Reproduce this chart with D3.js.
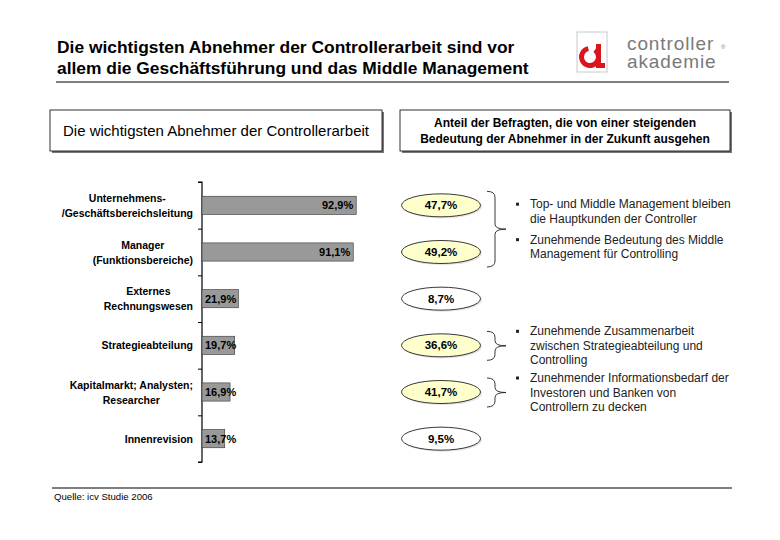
<!DOCTYPE html>
<html>
<head>
<meta charset="utf-8">
<script src="https://cdn.jsdelivr.net/npm/d3@7"></script>
<style>
  body { margin: 0; background: #fff; }
  svg { font-family: "Liberation Sans", Arial, sans-serif; }
</style>
</head>
<body>
<svg id="svg" width="780" height="540"></svg>
<script>
var titleLines = ["Die wichtigsten Abnehmer der Controllerarbeit sind vor",
                  "allem die Geschäftsführung und das Middle Management"];
var leftHeader = "Die wichtigsten Abnehmer der Controllerarbeit";
var rightHeader = ["Anteil der Befragten, die von einer steigenden",
                   "Bedeutung der Abnehmer in der Zukunft ausgehen"];
var logoLines = ["controller", "akademie"];
var categories = [["Unternehmens-", "/Geschäftsbereichsleitung"],
                  ["Manager", "(Funktionsbereiche)"],
                  ["Externes", "Rechnungswesen"],
                  ["Strategieabteilung"],
                  ["Kapitalmarkt; Analysten;", "Researcher"],
                  ["Innenrevision"]];
var current = [92.9, 91.1, 21.9, 19.7, 16.9, 13.7];
var future = [47.7, 49.2, 8.7, 36.6, 41.7, 9.5];
var highlighted = [true, true, false, true, true, false];
// brace groups: first and last row index, and the notes next to it
var braces = [[0, 1], [3, 3], [4, 4]];
var notes = [
  [["Top- und Middle Management bleiben", "die Hauptkunden der Controller"],
   ["Zunehmende Bedeutung des Middle", "Management für Controlling"]],
  [["Zunehmende Zusammenarbeit", "zwischen Strategieabteilung und", "Controlling"]],
  [["Zunehmender Informationsbedarf der", "Investoren und Banken von", "Controllern zu decken"]]
];
var source = "Quelle: icv Studie 2006";

var fmt = function(v) { return v.toFixed(1).replace(".", ",") + "%"; };

var svg = d3.select("#svg");

// title
svg.append("g").selectAll("text").data(titleLines).enter().append("text")
  .attr("x", 57).attr("y", function(d, i) { return 53 + i * 21; })
  .attr("font-size", 17.4).attr("font-weight", "bold").attr("fill", "#000")
  .text(function(d) { return d; });
svg.append("line").attr("x1", 56).attr("x2", 729).attr("y1", 82).attr("y2", 82)
  .attr("stroke", "#000").attr("stroke-width", 1.2);

// logo
var logo = svg.append("g");
logo.append("rect").attr("x", 577).attr("y", 32).attr("width", 30).attr("height", 40)
  .attr("fill", "#fff").attr("stroke", "#c8c8c8");
logo.append("path").attr("d", d3.arc()({innerRadius: 6, outerRadius: 11, startAngle: 0.6, endAngle: 2 * Math.PI - 0.2}))
  .attr("transform", "translate(590,57)").attr("fill", "#d7161e");
logo.append("path").attr("d", "M596,44 L601,44 L601,63 L605,63 L605,68 L596,68 Z").attr("fill", "#d7161e");
logo.append("text").attr("x", 627).attr("y", 50).attr("font-size", 19).attr("fill", "#7a7a7a")
  .attr("letter-spacing", 0.9)
  .selectAll("tspan").data(logoLines).enter().append("tspan")
  .attr("x", 627).attr("dy", function(d, i) { return i ? 18 : 0; })
  .text(function(d) { return d; });
logo.append("text").attr("x", 721).attr("y", 49).attr("font-size", 6).attr("fill", "#7a7a7a").text("®");

// header boxes
function box(x, y, w, h) {
  svg.append("rect").attr("x", x + 2).attr("y", y + 2).attr("width", w).attr("height", h).attr("fill", "#777");
  svg.append("rect").attr("x", x).attr("y", y).attr("width", w).attr("height", h)
    .attr("fill", "#fff").attr("stroke", "#000").attr("stroke-width", 0.8);
}
box(50, 110, 332, 41);
box(400, 110, 330, 41);
svg.append("text").attr("x", 216).attr("y", 136).attr("text-anchor", "middle")
  .attr("font-size", 15).text(leftHeader);
svg.append("g").selectAll("text").data(rightHeader).enter().append("text")
  .attr("x", 565).attr("y", function(d, i) { return 127 + i * 16; }).attr("text-anchor", "middle")
  .attr("font-size", 12).attr("font-weight", "bold").text(function(d) { return d; });

// scales
var idx = d3.range(categories.length);
var y = d3.scaleBand().domain(idx).range([182, 462]).paddingInner(0.61).paddingOuter(0.305);
var yEdge = d3.scaleLinear().domain([0, categories.length]).range([182, 462]);
var x = d3.scaleLinear().domain([0, 100]).range([202, 368]);
var yc = function(i) { return y(i) + y.bandwidth() / 2; };

// axis with ticks at band edges
svg.append("g").attr("transform", "translate(202,0)")
  .call(d3.axisLeft(yEdge).ticks(categories.length).tickSize(4).tickFormat(""))
  .call(function(g) {
    g.select(".domain").attr("stroke", "#000").attr("stroke-width", 1.2).attr("d", "M-4,182H0V462H-4");
    g.selectAll(".tick line").attr("stroke", "#000");
  });

// bars
svg.append("g").selectAll("rect").data(current).enter().append("rect")
  .attr("x", x(0)).attr("y", function(d, i) { return y(i); })
  .attr("width", function(d) { return x(d) - x(0); }).attr("height", y.bandwidth())
  .attr("fill", "#999").attr("stroke", "#333").attr("stroke-width", 0.6);
svg.append("g").selectAll("text").data(current).enter().append("text")
  .attr("x", function(d) { return d > 50 ? x(d) - 3 : x(0) + 3; })
  .attr("y", function(d, i) { return yc(i) + 4; })
  .attr("text-anchor", function(d) { return d > 50 ? "end" : "start"; })
  .attr("font-size", 11).attr("font-weight", "bold").text(fmt);

// category labels, centered block, right edge at 193
var cat = svg.append("g").selectAll("g").data(categories).enter().append("g");
cat.each(function(lines, i) {
  var g = d3.select(this);
  var n = lines.length;
  lines.forEach(function(t, k) {
    g.append("text").attr("x", 0).attr("y", yc(i) + 4 + (k - (n - 1) / 2) * 15)
      .attr("text-anchor", "middle").attr("font-size", 10.5).attr("font-weight", "bold").text(t);
  });
  var w = d3.max(g.selectAll("text").nodes(), function(nd) { return nd.getComputedTextLength(); });
  g.attr("transform", "translate(" + (193 - w / 2) + ",0)");
});

// future ellipses
var ex = 441;
svg.append("g").selectAll("ellipse.sh").data(future).enter().append("ellipse")
  .attr("cx", ex + 1.5).attr("cy", function(d, i) { return yc(i) + 1.5; })
  .attr("rx", 39.5).attr("ry", 11.5).attr("fill", "#e4e4e4");
svg.append("g").selectAll("ellipse").data(future).enter().append("ellipse")
  .attr("cx", ex).attr("cy", function(d, i) { return yc(i); })
  .attr("rx", 39.5).attr("ry", 11.5)
  .attr("fill", function(d, i) { return highlighted[i] ? "#ffffcc" : "#fff"; })
  .attr("stroke", "#222").attr("stroke-width", 0.9);
svg.append("g").selectAll("text").data(future).enter().append("text")
  .attr("x", ex).attr("y", function(d, i) { return yc(i) + 4; }).attr("text-anchor", "middle")
  .attr("font-size", 11.5).attr("font-weight", "bold").text(fmt);

// braces and notes
var bx = 487, lh = 14.5, gap = 6.5;
braces.forEach(function(b, j) {
  var y0 = yc(b[0]) - 14, y1 = yc(b[1]) + 15, ym = (y0 + y1) / 2;
  var p = d3.path();
  p.moveTo(bx, y0);
  p.quadraticCurveTo(bx + 8, y0, bx + 8, y0 + 6);
  p.lineTo(bx + 8, ym - 5);
  p.quadraticCurveTo(bx + 8, ym, bx + 19, ym);
  p.quadraticCurveTo(bx + 8, ym, bx + 8, ym + 5);
  p.lineTo(bx + 8, y1 - 6);
  p.quadraticCurveTo(bx + 8, y1, bx, y1);
  svg.append("path").attr("d", p.toString()).attr("fill", "none").attr("stroke", "#222").attr("stroke-width", 0.9);

  var paras = notes[j];
  var total = d3.sum(paras, function(q) { return q.length; });
  var height = (total - 1) * lh + (paras.length - 1) * gap;
  var cy = ym - height / 2;
  paras.forEach(function(lines) {
    svg.append("rect").attr("x", 516).attr("y", cy - 1.5).attr("width", 3).attr("height", 3).attr("fill", "#222");
    lines.forEach(function(t) {
      svg.append("text").attr("x", 530).attr("y", cy + 4).attr("font-size", 12).attr("fill", "#222").text(t);
      cy += lh;
    });
    cy += gap;
  });
});

// footer
svg.append("line").attr("x1", 52).attr("x2", 732).attr("y1", 488).attr("y2", 488)
  .attr("stroke", "#000").attr("stroke-width", 1.2);
svg.append("text").attr("x", 54).attr("y", 500).attr("font-size", 9.6).text(source);
</script>
</body>
</html>
